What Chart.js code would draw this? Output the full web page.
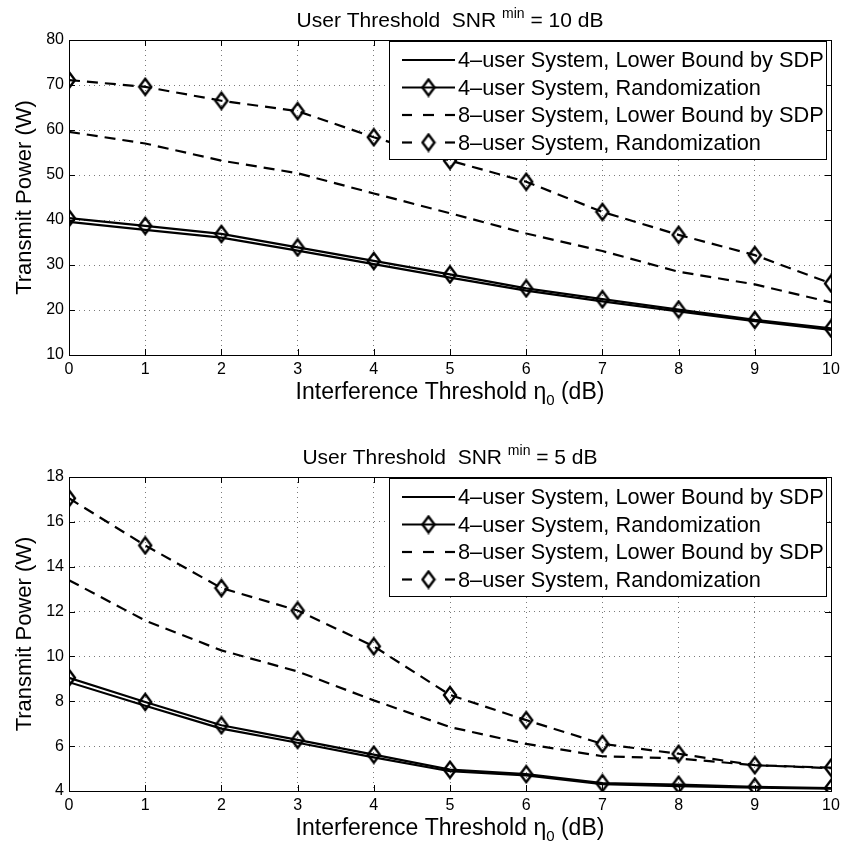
<!DOCTYPE html>
<html><head><meta charset="utf-8">
<script src="https://cdn.jsdelivr.net/npm/chart.js@4.4.1/dist/chart.umd.min.js"></script>
<style>
body{margin:0;background:#fff;width:845px;height:852px;overflow:hidden;position:relative}
canvas{position:absolute;left:0;display:block}
</style></head><body>
<canvas id="c1" width="845" height="437" style="top:0"></canvas>
<canvas id="c2" width="845" height="415" style="top:437px"></canvas>
<script>
// ---- data ----
const eta = [0,1,2,3,4,5,6,7,8,9,10];
const xTicks = [0,1,2,3,4,5,6,7,8,9,10];
// SNR_min = 10 dB
const p10_4sdp  = [39.6, 37.8, 36.1, 33.2, 30.2, 27.2, 24.3, 21.9, 19.7, 17.5, 15.6];
const p10_4rand = [40.4, 38.7, 36.9, 33.9, 30.9, 27.9, 24.8, 22.4, 20.1, 17.8, 15.9];
const p10_8sdp  = [59.6, 57.0, 53.2, 50.4, 45.9, 41.5, 37.0, 33.1, 28.5, 25.7, 21.7];
const p10_8rand = [71.1, 69.6, 66.5, 64.2, 58.4, 53.2, 48.5, 41.8, 36.7, 32.2, 25.9];
const yTicks10 = [10,20,30,40,50,60,70,80];
// SNR_min = 5 dB
const p5_4sdp  = [8.85, 7.80, 6.78, 6.15, 5.50, 4.88, 4.70, 4.30, 4.22, 4.15, 4.10];
const p5_4rand = [9.05, 7.97, 6.93, 6.28, 5.62, 4.95, 4.75, 4.35, 4.28, 4.19, 4.13];
const p5_8sdp  = [13.4, 11.6, 10.27, 9.33, 8.04, 6.85, 6.10, 5.55, 5.45, 5.15, 5.02];
const p5_8rand = [17.05, 14.95, 13.05, 12.05, 10.45, 8.28, 7.16, 6.10, 5.66, 5.15, 5.04];
const yTicks5 = [4,6,8,10,12,14,16,18];

const seriesNames = ['4–user System, Lower Bound by SDP','4–user System, Randomization',
                     '8–user System, Lower Bound by SDP','8–user System, Randomization'];
const titleMain = 'User Threshold  SNR', titleSup = 'min';
const titleEnd10 = ' = 10 dB', titleEnd5 = ' = 5 dB';
const xTitleMain = 'Interference Threshold η', xTitleSub = '0', xTitleEnd = ' (dB)';
const yTitle = 'Transmit Power (W)';

const FONT = "'Liberation Sans', Arial, Helvetica, sans-serif";
Chart.defaults.font.family = FONT;
Chart.defaults.color = '#000';

// diamond marker
function makeDiamond(){
  const c = document.createElement('canvas');
  c.width = 16; c.height = 20;
  const g = c.getContext('2d');
  g.strokeStyle = '#000'; g.lineWidth = 2.4;
  g.beginPath(); g.moveTo(8,2); g.lineTo(14,10); g.lineTo(8,18); g.lineTo(2,10); g.closePath(); g.stroke();
  return c;
}
const diamond = makeDiamond();

const DASH = [11,7];
function mk(arr, dashed, marker){
  return {
    data: eta.map((x,i)=>({x, y: arr[i]})),
    borderColor:'#000', borderWidth:2.2, borderDash: dashed?DASH:[],
    pointStyle: marker?diamond:'circle', pointRadius: marker?8:0, pointHoverRadius: marker?8:0,
    backgroundColor:'transparent', fill:false, tension:0
  };
}

const decor = {
  id:'decor',
  afterDraw(chart, args, o){
    const {ctx, chartArea:a, scales:{x,y}} = chart;
    ctx.save();
    ctx.strokeStyle = '#000'; ctx.lineWidth = 1;
    const L=(x1,y1,x2,y2)=>{ctx.beginPath();ctx.moveTo(x1,y1);ctx.lineTo(x2,y2);ctx.stroke();};
    x.ticks.forEach(t=>{const p=Math.round(x.getPixelForValue(t.value))+0.5; L(p,a.bottom,p,a.bottom-6); L(p,a.top,p,a.top+6);});
    y.ticks.forEach(t=>{const p=Math.round(y.getPixelForValue(t.value))+0.5; L(a.left,p,a.left+6,p); L(a.right,p,a.right-6,p);});
    ctx.strokeRect(Math.round(a.left)+0.5, Math.round(a.top)+0.5, Math.round(a.right-a.left), Math.round(a.bottom-a.top));

    // legend
    const bx=389, by=Math.round(a.top)+1, bw=Math.round(a.right)-5-bx, bh=118;
    ctx.fillStyle='#fff'; ctx.fillRect(bx,by,bw,bh);
    ctx.strokeRect(bx+0.5,by+0.5,bw,bh);
    ctx.font = '21.8px '+FONT; ctx.fillStyle='#000'; ctx.textBaseline='middle'; ctx.textAlign='left';
    const rows=[19,46.5,74,101.5];
    chart.data.datasets.forEach((ds,i)=>{
      const yy = by+rows[i];
      ctx.save(); ctx.lineWidth=2.2; ctx.setLineDash(ds.borderDash||[]);
      if (ds.borderDash && ds.borderDash.length && ds.pointRadius){
        ctx.setLineDash([]); L(402,yy,412,yy); L(445,yy,455,yy);
      } else if (ds.borderDash && ds.borderDash.length){
        ctx.setLineDash([]); L(402,yy,412,yy); L(423,yy,434,yy); L(445,yy,455,yy);
      } else L(402,yy,455,yy);
      ctx.restore();
      if (ds.pointRadius) ctx.drawImage(diamond, 428.5-8, yy-10);
      ctx.fillText(seriesNames[i], 458, yy+1);
    });

    // title with superscript
    const fMain='21px '+FONT, fSup='14px '+FONT;
    ctx.textBaseline='alphabetic';
    ctx.font=fMain; const w1=ctx.measureText(titleMain+' ').width;
    const w3=ctx.measureText(o.titleEnd).width;
    ctx.font=fSup; const w2=ctx.measureText(titleSup).width;
    let tx = (a.left+a.right)/2 - (w1+w2+w3)/2, ty = a.top-13;
    ctx.font=fMain; ctx.fillText(titleMain+' ', tx, ty); tx+=w1;
    ctx.font=fSup; ctx.fillText(titleSup, tx, ty-9); tx+=w2;
    ctx.font=fMain; ctx.fillText(o.titleEnd, tx, ty);

    // x title with subscript
    const fx='23px '+FONT, fs='15px '+FONT;
    ctx.font=fx; const v1=ctx.measureText(xTitleMain).width, v3=ctx.measureText(xTitleEnd).width;
    ctx.font=fs; const v2=ctx.measureText(xTitleSub).width;
    let xx=(a.left+a.right)/2-(v1+v2+v3)/2, xy=a.bottom+44;
    ctx.font=fx; ctx.fillText(xTitleMain, xx, xy); xx+=v1;
    ctx.font=fs; ctx.fillText(xTitleSub, xx, xy+6); xx+=v2;
    ctx.font=fx; ctx.fillText(xTitleEnd, xx, xy);

    // y title
    ctx.save(); ctx.translate(31,(a.top+a.bottom)/2); ctx.rotate(-Math.PI/2);
    ctx.font='22px '+FONT; ctx.textAlign='center'; ctx.fillText(yTitle,0,0); ctx.restore();
    ctx.restore();
  }
};

function build(id, sets, ymin, ymax, ystep, yt, titleEnd, xh){
  new Chart(document.getElementById(id), {
    type:'line',
    data:{ datasets: sets },
    options:{
      responsive:false, animation:false, events:[],
      layout:{ padding:{ top:40, right:14, left:0, bottom:0 } },
      plugins:{ legend:{display:false}, tooltip:{enabled:false}, title:{display:false}, decor:{ titleEnd } },
      scales:{
        x:{ type:'linear', min:0, max:10,
            afterFit(s){ s.height = xh; },
            afterBuildTicks(s){ s.ticks = xTicks.map(v=>({value:v})); },
            ticks:{ font:{size:16}, padding:5, color:'#000', autoSkip:false, maxRotation:0 },
            grid:{ color:'#7a7a7a', lineWidth:1, drawTicks:false },
            border:{ display:false, dash:[1,4] } },
        y:{ type:'linear', min:ymin, max:ymax,
            afterFit(s){ s.width = 69; },
            afterBuildTicks(s){ s.ticks = yt.map(v=>({value:v})); },
            ticks:{ font:{size:16}, padding:5, color:'#000' },
            grid:{ color:'#7a7a7a', lineWidth:1, drawTicks:false },
            border:{ display:false, dash:[1,4] } }
      }
    },
    plugins:[decor]
  });
}

build('c1', [mk(p10_4sdp,false,false), mk(p10_4rand,false,true), mk(p10_8sdp,true,false), mk(p10_8rand,true,true)],
      10, 80, 10, yTicks10, titleEnd10, 82);
build('c2', [mk(p5_4sdp,false,false), mk(p5_4rand,false,true), mk(p5_8sdp,true,false), mk(p5_8rand,true,true)],
      4, 18, 2, yTicks5, titleEnd5, 61);
</script>
</body></html>
